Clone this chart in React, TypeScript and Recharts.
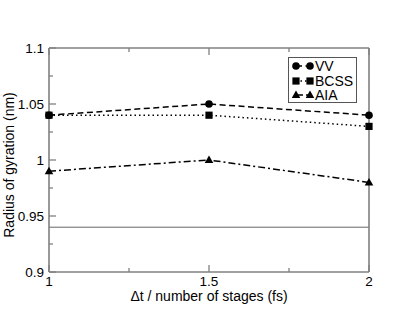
import { Legend, Line, LineChart, ReferenceLine, XAxis, YAxis } from 'recharts'

const stages = [1, 1.5, 2]
const vv = [1.04, 1.05, 1.04]
const bcss = [1.04, 1.04, 1.03]
const aia = [0.99, 1.0, 0.98]
const baseline = 0.94

const xTicks = [1, 1.25, 1.5, 1.75, 2]
const xLabels = [1, 1.5, 2]
const yTicks = [0.9, 0.925, 0.95, 0.975, 1, 1.025, 1.05, 1.075, 1.1]
const yLabels = [0.9, 0.95, 1, 1.05, 1.1]

const data = stages.map((s, i) => ({ s, vv: vv[i], bcss: bcss[i], aia: aia[i] }))

const FONT = '"Liberation Sans", Arial, sans-serif'
const AXIS = '#808080'
const TICK_FONT = 13.5

const isMajor = (list: number[], v: number) => list.some((m) => Math.abs(m - v) < 1e-6)

function Marker({ shape, cx, cy }: { shape: string; cx: number; cy: number }) {
  if (shape === 'circle') return <circle cx={cx} cy={cy} r={3.8} fill="#000" />
  if (shape === 'square') return <rect x={cx - 3.6} y={cy - 3.6} width={7.2} height={7.2} fill="#000" />
  return <polygon points={`${cx},${cy - 4.5} ${cx + 4.3},${cy + 3} ${cx - 4.3},${cy + 3}`} fill="#000" />
}

const dot = (shape: string) => (p: any) => <Marker key={`${shape}-${p.index}`} shape={shape} cx={p.cx} cy={p.cy} />

const series = [
  { key: 'vv', name: 'VV', shape: 'circle', dash: '6 3.5' },
  { key: 'bcss', name: 'BCSS', shape: 'square', dash: '1.5 3' },
  { key: 'aia', name: 'AIA', shape: 'triangle', dash: '7 3 2 3' },
]

function LeftTick({ x, y, payload }: any) {
  const major = isMajor(yLabels, payload.value)
  const ax = x + 4
  return (
    <g>
      <line x1={ax} x2={ax + (major ? 7 : 4)} y1={y} y2={y} stroke={AXIS} strokeWidth={1.3} />
      {major && (
        <text x={x - 1} y={y} dy={5} textAnchor="end" fontSize={TICK_FONT} fontFamily={FONT} fill="#000">
          {payload.value}
        </text>
      )}
    </g>
  )
}

function RightTick({ x, y, payload }: any) {
  const major = isMajor(yLabels, payload.value)
  return <line x1={x} x2={x - (major ? 7 : 4)} y1={y} y2={y} stroke={AXIS} strokeWidth={1.3} />
}

function BottomTick({ x, y, payload }: any) {
  const major = isMajor(xLabels, payload.value)
  const ay = y - 4
  return (
    <g>
      <line x1={x} x2={x} y1={ay} y2={ay - (major ? 7 : 4)} stroke={AXIS} strokeWidth={1.3} />
      {major && (
        <text x={x} y={y} dy={10} textAnchor="middle" fontSize={TICK_FONT} fontFamily={FONT} fill="#000">
          {payload.value}
        </text>
      )}
    </g>
  )
}

function TopTick({ x, y, payload }: any) {
  const major = isMajor(xLabels, payload.value)
  return <line x1={x} x2={x} y1={y} y2={y + (major ? 7 : 4)} stroke={AXIS} strokeWidth={1.3} />
}

function LegendBox() {
  return (
    <div
      style={{
        boxSizing: 'border-box',
        width: 69,
        height: 46,
        border: '1px solid #555',
        background: '#fff',
        padding: '1px 0 0 3px',
        fontFamily: FONT,
        fontSize: 14,
        lineHeight: '14px',
        textAlign: 'left',
      }}
    >
      {series.map((s) => (
        <div key={s.key} style={{ display: 'flex', alignItems: 'center', height: 14.5 }}>
          <svg width={22} height={12} style={{ flex: 'none' }}>
            <line x1={4} x2={18} y1={6} y2={6} stroke="#000" strokeWidth={1.5} strokeDasharray={s.dash} />
            <Marker shape={s.shape} cx={4} cy={6} />
            <Marker shape={s.shape} cx={18} cy={6} />
          </svg>
          <span style={{ marginLeft: 1, whiteSpace: 'nowrap' }}>{s.name}</span>
        </div>
      ))}
    </div>
  )
}

export default function App() {
  return (
    <div style={{ position: 'absolute', left: 0, top: 0 }}>
      <LineChart width={415} height={321} data={data} margin={{ top: 47, right: 45, left: 9, bottom: 19 }}>
        <XAxis
          dataKey="s"
          type="number"
          domain={[1, 2]}
          ticks={xTicks}
          tickSize={0}
          tickMargin={4}
          height={30}
          tick={<BottomTick />}
          tickLine={false}
          axisLine={{ stroke: AXIS, strokeWidth: 1.6 }}
          interval={0}
        />
        <XAxis
          xAxisId="top"
          orientation="top"
          dataKey="s"
          type="number"
          domain={[1, 2]}
          ticks={xTicks}
          tickSize={0}
          tickMargin={0}
          height={1}
          tick={<TopTick />}
          tickLine={false}
          axisLine={{ stroke: AXIS, strokeWidth: 1.6 }}
          interval={0}
        />
        <YAxis
          type="number"
          domain={[0.9, 1.1]}
          ticks={yTicks}
          tickSize={0}
          tickMargin={4}
          width={40}
          tick={<LeftTick />}
          tickLine={false}
          axisLine={{ stroke: AXIS, strokeWidth: 1.6 }}
          interval={0}
        />
        <YAxis
          yAxisId="right"
          orientation="right"
          type="number"
          domain={[0.9, 1.1]}
          ticks={yTicks}
          tickSize={0}
          tickMargin={0}
          width={1}
          tick={<RightTick />}
          tickLine={false}
          axisLine={{ stroke: AXIS, strokeWidth: 1.6 }}
          interval={0}
        />
        <ReferenceLine y={baseline} stroke="#666" strokeWidth={1} />
        {series.map((s) => (
          <Line
            key={s.key}
            dataKey={s.key}
            name={s.name}
            stroke="#000"
            strokeWidth={1.5}
            strokeDasharray={s.dash}
            dot={dot(s.shape)}
            activeDot={false}
            isAnimationActive={false}
          />
        ))}
        <Legend
          layout="horizontal"
          align="center"
          verticalAlign="middle"
          content={<LegendBox />}
          wrapperStyle={{ position: 'absolute', left: 288, top: 57, width: 69, height: 46 }}
        />
        <text
          x={9}
          y={165}
          transform="rotate(-90 9 165)"
          textAnchor="middle"
          dominantBaseline="central"
          fontSize={14}
          fontFamily={FONT}
          fill="#000"
        >
          Radius of gyration (nm)
        </text>
        <text x={209} y={301} textAnchor="middle" fontSize={14} fontFamily={FONT} fill="#000">
          Δt / number of stages (fs)
        </text>
      </LineChart>
    </div>
  )
}
